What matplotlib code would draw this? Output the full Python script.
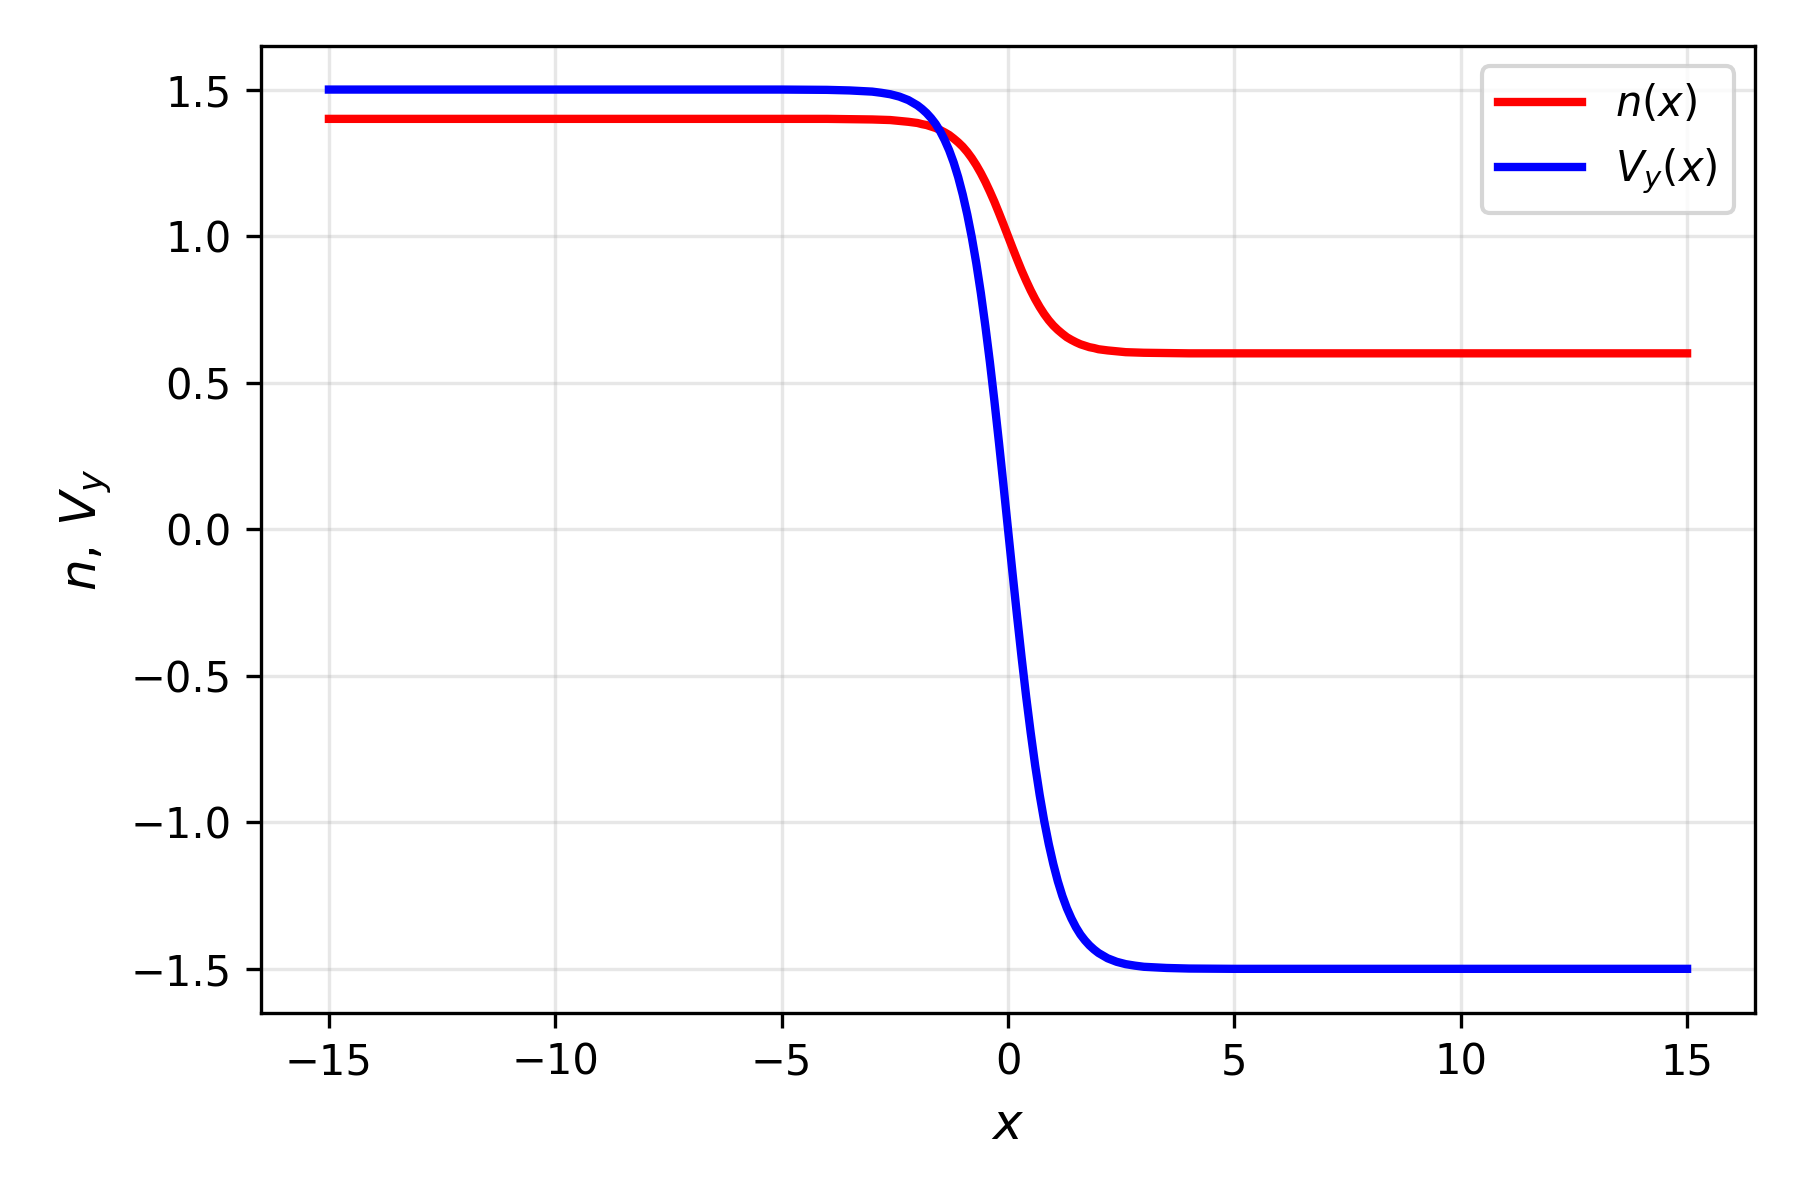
import matplotlib
matplotlib.use("Agg")
import matplotlib.pyplot as plt

# valeurs
x = [-15, -5, -4, -3.5, -3.0, -2.8, -2.6, -2.4, -2.2, -2.0, -1.9, -1.8, -1.7,
     -1.6, -1.5, -1.4, -1.3, -1.2, -1.1, -1.0, -0.9, -0.8, -0.7, -0.6, -0.5,
     -0.4, -0.3, -0.2, -0.1, 0.0, 0.1, 0.2, 0.3, 0.4, 0.5, 0.6, 0.7, 0.8, 0.9,
     1.0, 1.1, 1.2, 1.3, 1.4, 1.5, 1.6, 1.7, 1.8, 1.9, 2.0, 2.2, 2.4, 2.6, 2.8,
     3.0, 3.5, 4, 5, 15]
n_vals = [1.400, 1.400, 1.400, 1.399, 1.398, 1.397, 1.396, 1.393, 1.390, 1.386,
          1.382, 1.379, 1.374, 1.369, 1.362, 1.354, 1.345, 1.333, 1.320, 1.305,
          1.287, 1.266, 1.242, 1.215, 1.185, 1.152, 1.117, 1.079, 1.040, 1.000,
          0.960, 0.921, 0.883, 0.848, 0.815, 0.785, 0.758, 0.734, 0.713, 0.695,
          0.680, 0.667, 0.655, 0.646, 0.638, 0.631, 0.626, 0.621, 0.618, 0.614,
          0.610, 0.607, 0.604, 0.603, 0.602, 0.601, 0.600, 0.600, 0.600]
vy_vals = [1.500, 1.500, 1.499, 1.497, 1.493, 1.489, 1.484, 1.476, 1.464, 1.446,
           1.434, 1.420, 1.403, 1.383, 1.358, 1.328, 1.293, 1.251, 1.201, 1.142,
           1.074, 0.996, 0.907, 0.806, 0.693, 0.570, 0.437, 0.296, 0.150, 0.000,
           -0.150, -0.296, -0.437, -0.570, -0.693, -0.806, -0.907, -0.996, -1.074,
           -1.142, -1.201, -1.251, -1.293, -1.328, -1.358, -1.383, -1.403, -1.420,
           -1.434, -1.446, -1.464, -1.476, -1.484, -1.489, -1.493, -1.497, -1.499,
           -1.500, -1.500]

fig, ax = plt.subplots(figsize=(6, 4), dpi=300)
ax.plot(x, n_vals, color='red', lw=2, label=r'$n(x)$')
ax.plot(x, vy_vals, color='blue', lw=2, label=r'$V_y(x)$')
ax.set_xlabel(r'$x$', fontsize=12)
ax.set_ylabel(r'$n,\, V_y$', fontsize=12)
ax.grid(True, alpha=0.3)
ax.legend(fontsize=10, loc='upper right', handlelength=2.0, labelspacing=0.52)
ax.tick_params(labelsize=10)
fig.subplots_adjust(left=0.145, right=0.975, top=0.962, bottom=0.156)
fig.savefig('out.png')
